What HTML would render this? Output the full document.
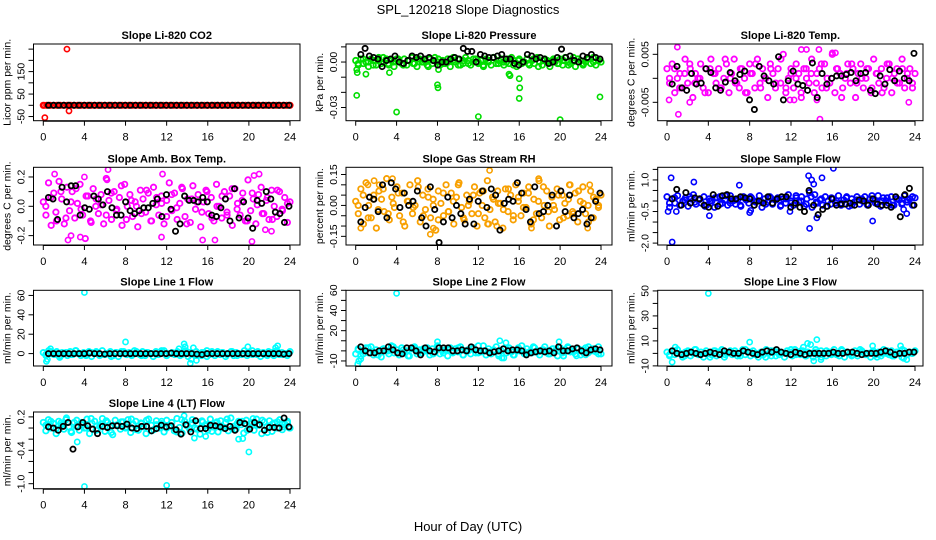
<!DOCTYPE html>
<html><head><meta charset="utf-8"><style>
body{margin:0;background:#fff;}
svg{display:block;font-family:"Liberation Sans",Arial,sans-serif;}
</style></head><body>
<svg id="c" width="936" height="540" viewBox="0 0 936 540">
<text x="468" y="14" text-anchor="middle" font-size="13">SPL_120218  Slope Diagnostics</text>
<text x="468" y="531" text-anchor="middle" font-size="13">Hour of Day (UTC)</text>
</svg>
<script>
// ---------- data ----------
const xTicks=[0,4,8,12,16,20,24];
const titles=["Slope Li-820 CO2","Slope Li-820 Pressure","Slope Li-820 Temp.","Slope Amb. Box Temp.","Slope Gas Stream RH","Slope Sample Flow","Slope Line 1 Flow","Slope Line 2 Flow","Slope Line 3 Flow","Slope Line 4 (LT) Flow"];
const yTitles=["Licor ppm per min.","kPa per min.","degrees C per min.","degrees C per min.","percent per min.","ml/min per min.","ml/min per min.","ml/min per min.","ml/min per min.","ml/min per min."];
const colors=["#ff0000","#00dd00","#ff00ff","#ff00ff","#f8a000","#0000ff","#00ffff","#00ffff","#00ffff","#00ffff"];
const yDomains=[[-68.5,272.8],[-0.0387,0.0119],[-0.00883,0.00715],[-0.264,0.266],[-0.192,0.185],[-2.09,1.6],[-12.8,65.3],[-15,60],[-10.1,50.5],[-1.09,0.288]];
const yTicks=[[-50,0,50,100,150,200,250],[0.01,0,-0.01,-0.02,-0.03],[0.005,0,-0.005],[0.2,0.1,0,-0.1,-0.2],[0.15,0.1,0.05,0,-0.05,-0.1,-0.15],[1.5,1,0.5,0,-0.5,-1,-1.5,-2],[0,20,40,60],[-10,0,10,20,30,40,50,60],[-10,0,10,20,30,40,50],[0.2,0,-0.2,-0.4,-0.6,-0.8,-1.0]];
const yLabels=[["-50","50","150"],["0.00","-0.03"],["0.005","-0.005"],["0.2","0.0","-0.2"],["0.15","0.00","-0.15"],["1.0","-0.5","-2.0"],["0","20","40","60"],["-10","20","40","60"],["-10","10","30","50"],["0.2","-0.4","-1.0"]];
const yLabelVals=[[-50,50,150],[0,-0.03],[0.005,-0.005],[0.2,0,-0.2],[0.15,0,-0.15],[1,-0.5,-2],[0,20,40,60],[-10,20,40,60],[-10,10,30,50],[0.2,-0.4,-1.0]];

const band0=[0,0,0,0,0,0,0,0,0,0,0,0,0,0,0,0,0,0,0,0,0,0,0,0,0,0,0,0,0,0,0,0,0,0,0,0,0,0,0,0,0,0,0,0,0,0,0,0,0,0,0,0,0,0,0,0,0,0,0,0,0,0,0,0,0,0,0,0,0,0,0,0,0];
const bandB0=[];
const out0H=[0.1,0.15,2.3,2.5];
const out0V=[0,-55,250,-25];
const black0=[0,0,0,0,0,0,0,0,0,0,0,0,0,0,0,0,0,0,0,0,0,0,0,0,0,0,0,0,0,0,0,0,0,0,0,0,0,0,0,0,0,0,0,0,0,0,0,0];

const band1=[0.001,-0.002,0.002,-0.001,0.0,-0.003,0.002,0.001,-0.002,0.003,-0.001,0.0,0.002,-0.002,0.001,-0.003,0.002,0.0,-0.001,0.002,-0.002,0.001,0.003,-0.001,-0.003,0.002,0.0,0.001,-0.002,0.002,-0.001,0.003,0.0,-0.002,0.001,-0.001,0.002,-0.003,0.001,0.0,0.002,-0.002,-0.001,0.003,0.001,-0.002,0.0,0.002,-0.001,0.001,-0.003,0.002,0.0,-0.002,0.003,-0.001,0.001,0.002,-0.002,0.0,-0.001,0.003,0.001,-0.003,0.002,-0.001,0.0,0.002,-0.002,0.001,-0.001,0.003,0.0,-0.002,0.002,0.001,-0.003,0.001,0.0,-0.001,0.002,-0.002,0.003,0.0,-0.001,0.001,-0.003,0.002,0.001,-0.002,0.0,0.002,-0.001,0.003,-0.002,0.001,0.0];
const bandB1=[-0.001,0.002,0.0,-0.002,0.001,0.003,-0.001,0.0,0.002,-0.002,0.001,-0.001,0.002,0.0,-0.003,0.001,0.002,-0.001,0.0,0.003,-0.002,0.001,-0.001,0.002,0.0,-0.002,0.001,0.003,-0.001,0.0,0.002,-0.002,0.001,0.0,-0.001,0.002,-0.003,0.001,0.0,0.002,-0.001,0.001,-0.002,0.003,0.0,-0.001,0.002,0.0,0.001];
const out1H=[0.1,0.15,0.1,1.0,3.3,4.0,8.0,8.05,8.1,12.0,15.0,15.1,16.0,16.05,16.0,20.0,23.9];
const out1V=[-0.005,-0.007,-0.022,-0.008,-0.007,-0.033,-0.015,-0.017,-0.005,-0.036,-0.008,-0.009,-0.011,-0.017,-0.024,-0.038,-0.023];
const black1=[0.005,0.009,0.004,0.003,0.002,-0.003,0.001,0.002,0.004,0.0,-0.001,0.001,0.004,0.003,0.004,0.002,0.003,0.001,-0.002,0.0,0.0,0.002,0.003,0.002,0.009,0.007,0.007,0.0,0.005,0.004,0.003,0.003,0.004,0.005,0.002,0.002,-0.001,-0.002,0.0,0.005,0.004,0.002,0.003,0.002,-0.001,0.0,0.003,0.0085,0.003,0.004,0.001,0.0,0.004,0.003,0.005,0.003,0.002];

const band2=[0.002,-0.001,0.003,-0.003,0.0,0.001,-0.002,0.004,-0.001,0.002,-0.004,0.001,0.0,0.003,-0.002,0.002,-0.003,0.004,0.001,-0.001,0.002,-0.002,0.0,0.003,-0.003,0.001,0.004,-0.001,-0.002,0.002,0.0,-0.003,0.003,0.001,-0.002,0.004,-0.001,0.002,0.0,-0.004,0.003,0.001,-0.002,0.002,-0.001,0.005,-0.003,0.0,0.002,-0.002,0.003,0.001,-0.004,0.002,0.0,-0.001,0.004,-0.003,0.001,0.002,-0.002,0.003,0.0,-0.001,0.005,-0.003,0.002,0.001,-0.002,0.0,0.003,-0.001,0.002,-0.004,0.001,0.003,-0.002,0.0,0.002,-0.003,0.004,0.001,-0.001,0.002,-0.002,0.0,0.003,-0.003,0.001,0.002,-0.001,0.004,-0.002,0.0,0.002,-0.001,0.001];
const bandB2=[0.0,0.002,-0.002,0.001,0.003,-0.001,0.0,-0.003,0.002,0.001,-0.002,0.004,0.0,-0.001,0.002,-0.003,0.001,0.003,-0.002,0.0,0.002,-0.001,0.004,-0.002,0.001,0.0,-0.003,0.002,0.001,-0.001,0.003,-0.002,0.0,0.002,-0.004,0.001,0.003,-0.001,0.0,0.002,-0.002,0.001,-0.003,0.003,0.0,-0.001,0.002,0.001,-0.002];
const out2H=[0.2,1.0,1.1,2.2,13.0,13.5,14.5,14.7,14.8,11.9,12.3,16.0,16.3,23.4];
const out2V=[-0.0045,0.0065,-0.0075,-0.005,0.006,0.006,-0.0045,0.006,-0.0085,-0.0045,-0.0045,0.0053,0.0053,-0.005];
const black2=[-0.0012,0.0025,-0.002,-0.0025,0.001,-0.0012,-0.001,0.002,0.0012,-0.002,-0.0025,-0.0008,0.0012,-0.0005,0.0008,0.0015,-0.0045,-0.0065,0.0025,0.0005,-0.0005,-0.0012,0.0045,-0.0045,-0.0005,0.0015,-0.0012,-0.0015,-0.0025,0.0032,-0.004,0.001,-0.0012,0.0,0.0005,0.0005,0.0008,0.0012,-0.0005,0.001,0.0012,-0.0025,-0.0032,0.0005,-0.0012,0.0018,-0.0005,0.0015,0.0,-0.0005,0.0052];

const band3=[0.03,-0.06,0.16,-0.13,0.09,-0.1,0.17,0.05,-0.12,0.13,-0.03,0.1,-0.08,0.02,0.15,-0.06,-0.22,0.07,-0.1,0.12,0.0,-0.05,0.08,-0.12,0.19,0.04,-0.09,0.1,-0.02,0.06,-0.13,0.15,0.0,0.08,-0.07,0.03,-0.14,0.11,0.05,-0.04,0.09,-0.1,0.13,0.01,-0.06,0.07,-0.12,0.04,0.16,-0.03,0.09,-0.09,0.02,0.12,-0.07,0.05,-0.11,0.14,-0.02,0.08,-0.14,0.03,0.11,-0.05,0.06,-0.1,0.15,0.0,-0.08,0.1,-0.04,0.07,-0.13,0.12,0.02,-0.06,0.09,-0.1,0.18,-0.03,0.05,-0.12,0.08,0.13,-0.05,0.04,-0.09,0.11,0.0,-0.07,0.1,-0.02,0.06,-0.11,0.03];
const bandB3=[0.0,0.06,-0.04,0.1,-0.08,0.03,0.12,-0.02,0.07,-0.11,0.05,0.01,-0.06,0.09,-0.03,0.14,-0.09,0.04,0.0,-0.05,0.11,-0.1,0.06,0.02,-0.07,0.08,-0.01,0.13,-0.12,0.05,0.03,-0.04,0.1,-0.08,0.0,0.07,-0.06,0.12,-0.02,0.04,-0.1,0.09,0.01,-0.05,0.06,-0.09,0.11,-0.03,0.02];
const out3H=[1.1,2.4,2.7,3.6,4.0,6.2,6.3,11.6,11.5,15.5,16.7,20.3,20.5,21.0,21.6,22.2];
const out3V=[0.22,-0.23,-0.2,-0.21,0.2,0.18,0.25,0.22,-0.21,-0.23,-0.23,-0.24,0.21,0.22,-0.16,-0.17];
const black3=[0.06,0.05,-0.09,0.13,0.03,0.14,0.14,-0.06,-0.01,-0.02,0.07,0.05,0.01,0.1,-0.01,-0.06,-0.06,0.03,-0.03,-0.05,-0.03,-0.01,-0.01,0.02,0.05,-0.07,0.08,-0.02,-0.17,-0.12,0.07,0.04,0.04,0.03,0.06,0.03,-0.06,-0.07,-0.01,0.05,-0.1,0.12,-0.08,0.03,-0.08,-0.15,0.04,0.02,0.1,0.05,-0.04,-0.05,-0.11,0.0];

const band4=[0.02,-0.04,0.08,-0.09,0.11,0.0,-0.06,0.05,-0.11,0.07,0.03,-0.03,0.13,-0.07,0.04,-0.01,0.09,-0.05,0.06,-0.1,0.02,0.1,-0.04,0.0,0.12,-0.08,0.05,-0.02,0.08,-0.06,0.03,-0.12,0.07,0.01,-0.05,0.1,-0.03,0.06,-0.09,0.04,0.11,-0.01,-0.07,0.05,0.02,-0.04,0.09,-0.1,0.06,0.0,-0.06,0.12,-0.02,0.04,-0.08,0.07,0.01,-0.11,0.08,-0.03,0.05,-0.07,0.1,0.02,-0.05,0.06,-0.01,0.09,-0.09,0.03,-0.04,0.12,-0.06,0.0,0.07,-0.1,0.04,-0.02,0.08,-0.07,0.05,0.01,-0.05,0.1,-0.03,0.06,-0.08,0.02,0.09,-0.04,0.0,0.07,-0.06,0.03,-0.01,0.05];
const bandB4=[0.0,0.05,-0.06,0.03,-0.02,0.08,-0.04,0.01,0.06,-0.08,0.02,-0.01,0.09,-0.05,0.04,0.0,-0.07,0.06,-0.03,0.02,0.1,-0.06,0.0,0.05,-0.04,0.07,-0.09,0.03,0.01,-0.02,0.08,-0.05,0.04,-0.01,0.06,-0.07,0.02,0.09,-0.03,0.0,0.05,-0.06,0.03,-0.04,0.07,0.01,-0.08,0.04,0.0];
const out4H=[0.5,1.2,1.8,2.3,3.6,7.3,7.6,12.3,12.9,13.1,13.8,17.2,17.9,20.9,22.7,22.9];
const out4V=[-0.11,0.1,0.12,0.1,0.13,-0.14,-0.11,0.07,-0.09,0.17,-0.1,-0.11,0.13,0.1,-0.11,0.1];
const black4=[-0.08,-0.01,0.04,0.03,-0.03,0.1,-0.06,0.11,0.08,-0.01,0.06,0.0,0.02,0.07,-0.06,-0.1,0.09,-0.02,-0.18,-0.08,0.04,-0.06,0.0,-0.04,-0.09,0.03,-0.09,0.02,0.07,-0.01,0.08,0.05,-0.12,0.01,0.03,0.02,0.11,0.06,-0.02,-0.08,0.09,-0.04,-0.03,0.0,0.05,-0.1,0.07,-0.03,0.05,-0.06,-0.04,-0.02,-0.09,-0.06,0.02,0.06];

const band5=[0.2,-0.3,0.1,-0.1,0.25,-0.2,0.0,0.15,-0.25,0.1,0.3,-0.15,0.05,-0.1,0.2,-0.2,0.1,0.0,-0.3,0.15,0.2,-0.1,0.05,-0.2,0.25,0.0,-0.15,0.1,-0.25,0.2,0.05,-0.1,0.15,-0.2,0.0,0.25,-0.3,0.1,-0.05,0.2,-0.15,0.05,0.15,-0.25,0.1,-0.1,0.3,0.0,-0.2,0.15,-0.05,0.2,-0.25,0.1,0.4,-0.3,0.3,-0.1,0.05,-0.2,0.2,0.0,-0.15,0.1,-0.1,0.25,-0.2,0.05,0.15,-0.25,0.1,-0.05,0.2,-0.15,0.0,0.2,-0.2,0.1,0.05,-0.1,0.25,-0.25,0.15,0.0,-0.1,0.2,-0.2,0.1,0.05,-0.15,0.25,-0.05,0.1,-0.2,0.15];
const bandB5=[-0.1,0.15,-0.2,0.05,0.2,-0.05,0.1,-0.25,0.0,0.15,-0.15,0.25,-0.1,0.05,-0.2,0.1,0.2,-0.05,0.0,-0.15,0.15,0.05,-0.2,0.1,-0.1,0.25,0.0,-0.15,0.2,-0.05,0.1,-0.25,0.15,0.0,-0.1,0.2,-0.2,0.05,0.1,-0.15,0.25,-0.05,0.0,0.15,-0.2,0.1,-0.1,0.05,0.2];
const out5H=[0.1,0.4,0.5,0.9,2.6,4.1,7.0,8.0,8.1,11.9,13.7,13.8,14.0,14.2,14.5,15.0,16.1,19.9,22.9,23.2];
const out5V=[-0.5,1.1,-1.95,-0.5,0.9,-0.7,0.75,-0.55,-0.45,-0.5,1.2,-1.3,1.0,0.8,-0.8,1.1,1.55,-0.95,-0.4,-0.6];
const black5=[0.1,0.55,-0.2,0.4,-0.1,0.15,0.1,-0.2,-0.3,0.3,-0.25,0.25,0.3,0.1,0.1,0.2,0.15,0.1,-0.2,0.0,-0.1,0.2,-0.1,0.1,0.2,0.2,-0.3,-0.1,-0.3,-0.5,0.5,-0.2,-0.65,-0.4,-0.25,0.1,-0.2,-0.15,-0.15,-0.1,-0.2,0.05,0.0,-0.2,0.1,-0.15,-0.2,-0.2,-0.3,0.2,-0.75,0.3,0.6,-0.2];

const band6=[1,-2,3,0,-1,2,-3,1,0,-2,2,-1,3,0,-2,1,-1,2,-3,0,1,-2,3,-1,0,2,-2,1,-3,0,2,-1,1,-2,3,0,-1,2,-2,1,0,-3,2,-1,1,3,-2,0,1,-1,2,-2,0,3,-3,1,-1,2,0,-2,1,3,-1,0,-2,2,-1,1,-3,0,2,-2,1,0,-1,3,-2,1,-1,0,2,-3,1,-1,2,0,-2,3,-1,1,0,-2,2];
const bandB6=[-1,2,0,-2,1,-1,3,0,-2,1,2,-1,0,-3,1,2,0,-1,2,-2,1,0,-1,3,-2,0,1,-1,2,0,-2,1,-3,2,0,1,-1,2,-2,0,1,3,-1,0,-2,1,2,-1,0];
const out6H=[0.3,0.4,0.7,1.6,4.0,8.0,13.2,13.7,13.8,14.3,14.4,14.6,14.9,19.9,22.6,22.8];
const out6V=[-8,-6,5,-4,63,12,5,10,7,-10,-6,6,-7,7,6,8];
const black6=[0,0,0,0,0,0,0,0,0.5,0,0,-0.5,0,0,0,0,0,0,0,0,0,0,0,0,0.5,0,0,0,0,-0.5,-1,0,0,0,0,0,0,0,0,0,0,0,0,0,0,0,-0.5,0];

const band7=[-3,2,-5,0,3,-2,4,-4,1,-1,-6,2,0,-3,5,-2,1,-4,3,-1,0,-5,2,4,-3,1,-2,0,3,-4,2,-1,5,-3,0,1,-5,3,-2,2,-1,4,-4,0,1,-3,3,-2,5,-1,0,-4,2,-3,1,4,-5,0,2,-2,3,-1,-4,1,0,5,-3,2,-1,-2,3,0,-4,1,4,-1,-3,2,0,-5,3,-2,1,4,-1,0,-3,2,-4,1,3,-2,0,2,-1,4,-3];
const bandB7=[1,-3,3,-1,-4,2,0,4,-2,1,-5,3,-1,2,0,-3,4,-2,1,-1,3,-4,0,2,-2,5,-1,0,-3,2,1,-4,3,0,-2,4,-1,1,-3,2,0,-5,3,-1,2,-2,4,0,-3];
const out7H=[0.2,0.3,0.5,4.0,8.0,14.1,14.3,14.5,14.7,19.9,21.6,22.5];
const out7V=[-13,-10,-8,57,9,10,-7,-7,8,9,-5,-4];
const black7=[4,0,-2,-2,0,0,4,1,-2,-3,3,3,0,-4,3,0,-1,3,3,3,0,0,1,0,4,1,0,0,-2,-1,0,2,0,1,1,0,-4,-2,-1,0,-1,0,-2,4,0,0,2,3,0,-2,1,2,1];

const band8=[1,-2,2,-1,3,0,-3,1,2,-2,0,3,-1,1,-3,2,0,-1,2,-2,1,3,-3,0,1,-1,2,-2,0,3,-1,1,-2,2,0,-3,1,-1,3,0,-2,2,1,-1,0,-3,2,1,-2,3,0,-1,2,-2,1,0,-3,3,-1,2,0,-2,1,-1,3,0,-2,2,-3,1,0,-1,2,-2,3,1,-1,0,-3,2,-1,1,-2,3,0,-1,2,-2,1,0,-3,2,-1,1,0,2];
const bandB8=[-1,2,0,-2,1,3,-1,0,-3,2,1,-1,2,0,-2,3,1,-1,0,-3,2,-2,1,0,3,-1,2,-2,0,1,-3,2,0,-1,3,1,-2,0,2,-1,1,-3,0,2,-2,1,3,-1,0];
const out8H=[0.5,0.8,4.0,8.0,13.2,13.6,13.9,14.2,14.5,14.9,19.9,22.6,22.9,23.2];
const out8V=[-7,5,48,9,5,8,7,-6,11,-5,6,6,-4,-5];
const black8=[2,0,-1,0,1,0,-1,0,1,0,-1,2,1,0,0,2,1,0,-1,1,2,1,3,1,0,-1,1,0,-1,0,0,0,0,0,1,0,0,1,1,0,-1,0,0,0,1,2,1,-1,0,0,1,1];

const band9=[0.1,-0.05,0.15,0.0,0.08,-0.1,0.12,0.05,-0.02,0.18,0.02,-0.08,0.1,0.14,-0.04,0.06,0.0,0.16,-0.1,0.08,0.12,-0.03,0.04,0.17,-0.06,0.1,0.02,-0.12,0.14,0.06,-0.02,0.11,0.0,0.15,-0.08,0.07,0.12,-0.04,0.09,0.02,-0.1,0.16,0.05,-0.03,0.13,0.0,0.08,-0.07,0.14,0.03,0.1,-0.05,0.17,0.01,-0.09,0.12,0.06,-0.02,0.15,0.0,0.08,-0.11,0.11,0.04,-0.04,0.16,0.02,0.09,-0.07,0.13,0.0,0.1,-0.05,0.18,0.03,-0.02,0.12,0.06,-0.09,0.14,0.01,0.08,-0.04,0.16,0.05,-0.1,0.11,0.02,0.13,-0.06,0.09,0.0,0.15,-0.03,0.07,0.12,0.0];
const bandB9=[0.05,0.12,-0.02,0.09,0.15,-0.06,0.03,0.1,0.0,0.17,-0.04,0.07,0.13,-0.08,0.05,0.11,0.02,0.16,-0.03,0.08,0.14,-0.05,0.06,0.12,0.0,0.1,-0.07,0.15,0.04,0.09,-0.02,0.13,0.06,-0.06,0.11,0.03,0.16,-0.01,0.08,0.12,-0.04,0.1,0.05,0.14,-0.08,0.07,0.11,0.02,0.09];
const out9H=[3.3,4.0,12.0,13.7,14.7,15.8,19.0,19.4,20.0,20.4,23.9];
const out9V=[-0.25,-1.05,-1.03,0.22,-0.18,-0.15,-0.2,-0.19,-0.43,0.17,0.0];
const black9=[0.02,0.0,-0.04,0.03,0.1,-0.38,0.02,0.1,0.04,-0.02,-0.1,0.03,0.01,0.04,0.04,0.03,0.07,0.0,-0.01,0.03,0.03,-0.05,-0.01,0.05,0.02,0.04,-0.03,-0.11,0.06,-0.07,0.13,-0.01,-0.01,0.05,0.04,0.02,-0.01,0.03,-0.04,0.1,0.08,-0.02,0.1,0.06,-0.04,0.01,0.01,0.0,0.18,0.02];

const bands=[band0,band1,band2,band3,band4,band5,band6,band7,band8,band9];
const bandsB=[bandB0,bandB1,bandB2,bandB3,bandB4,bandB5,bandB6,bandB7,bandB8,bandB9];
const outH=[out0H,out1H,out2H,out3H,out4H,out5H,out6H,out7H,out8H,out9H];
const outV=[out0V,out1V,out2V,out3V,out4V,out5V,out6V,out7V,out8V,out9V];
const blacks=[black0,black1,black2,black3,black4,black5,black6,black7,black8,black9];

// ---------- layout ----------
const colBox=[[33.5,300],[346,612],[657.7,923]];
const colX=[[43.3,290],[355.7,601],[667,915]];
const rowBox=[[44,120.7],[167.3,245],[290.3,366],[412,488.7]];
const NS="http://www.w3.org/2000/svg";
const svg=document.getElementById('c');
function mk(tag,attrs,parent){const e=document.createElementNS(NS,tag);for(const k in attrs)e.setAttribute(k,attrs[k]);(parent||svg).appendChild(e);return e;}

for(let p=0;p<10;p++){
  const col=p%3,row=Math.floor(p/3);
  const [bl,br]=colBox[col],[bt,bb]=rowBox[row],[x0,x24]=colX[col],[ymin,ymax]=yDomains[p];
  const xs=h=>x0+(x24-x0)*h/24;
  const ys=v=>bb-(v-ymin)/(ymax-ymin)*(bb-bt);
  const g=mk('g',{});
  
  
  const cp=mk('clipPath',{id:'cp'+p},g);
  mk('rect',{x:bl,y:bt,width:br-bl,height:bb-bt},cp);
  const t=mk('text',{x:(bl+br)/2,y:bt-5,'text-anchor':'middle','font-size':11,'font-weight':'bold'},g);
  t.textContent=titles[p];
  
  
  const yt=mk('text',{x:0,y:0,'text-anchor':'middle','font-size':10.5,transform:`translate(${bl-23},${(bt+bb)/2}) rotate(-90)`},g);
  yt.textContent=yTitles[p];
  
  
  const pts=mk('g',{'clip-path':`url(#cp${p})`,fill:'none'},g);
  
  
  const b=bands[p];
  b.forEach((v,i)=>{const c=mk('circle',{cx:xs(i*24/(b.length-1)),cy:ys(v),r:2.7,stroke:colors[p],'stroke-width':1.8},pts);
    
    });
  const bb2=bandsB[p];
  bb2.forEach((v,i)=>{const c=mk('circle',{cx:xs((i+0.5)*24/bb2.length),cy:ys(v),r:2.7,stroke:colors[p],'stroke-width':1.8},pts);
    
    });
  outH[p].forEach((h,i)=>{const c=mk('circle',{cx:xs(h),cy:ys(outV[p][i]),r:2.6,stroke:colors[p],'stroke-width':1.6},pts);
    
    });
  const k=blacks[p];
  k.forEach((v,i)=>{const c=mk('circle',{cx:xs(0.5+i*23.4/(k.length-1)),cy:ys(v),r:2.6,stroke:'#000','stroke-width':1.8},pts);
    
    });
  const bx=mk('rect',{x:bl,y:bt,width:br-bl,height:bb-bt,fill:'none',stroke:'#000','stroke-width':1},g);
  
  
  mk('line',{x1:xs(0),x2:xs(24),y1:bb+0.5,y2:bb+0.5,stroke:'#000'},g);
  xTicks.forEach(h=>{mk('line',{x1:xs(h),x2:xs(h),y1:bb,y2:bb+5,stroke:'#000'},g);
    const l=mk('text',{x:xs(h),y:bb+20,'text-anchor':'middle','font-size':11},g);l.textContent=h;
    
    });
  yTicks[p].forEach(v=>mk('line',{x1:bl-5,x2:bl,y1:ys(v),y2:ys(v),stroke:'#000'},g));
  yLabels[p].forEach((s,i)=>{const yy=ys(yLabelVals[p][i]);
    const l=mk('text',{x:0,y:0,'text-anchor':'middle','font-size':10.5,transform:`translate(${bl-9},${yy}) rotate(-90)`},g);l.textContent=s;
    
    });
}
</script>
</body></html>
